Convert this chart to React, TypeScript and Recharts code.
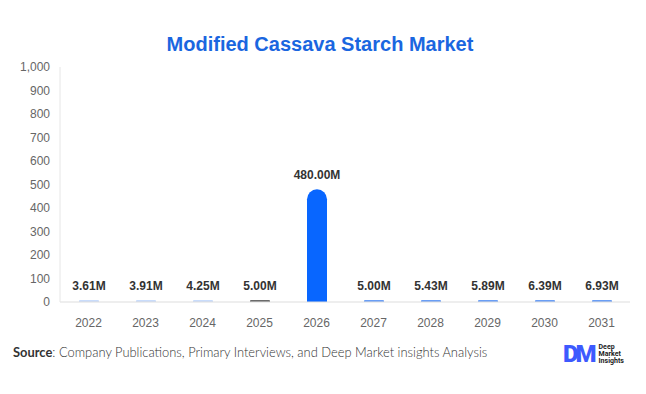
import { Bar, BarChart, Cell, LabelList, XAxis, YAxis } from 'recharts';

const years = ['2022', '2023', '2024', '2025', '2026', '2027', '2028', '2029', '2030', '2031'];
const marketSize = [3.61, 3.91, 4.25, 5.0, 480.0, 5.0, 5.43, 5.89, 6.39, 6.93];
const barColors = [
  '#c9dcfb', '#c9dcfb', '#c9dcfb', '#6b6b6b', '#0866ff',
  '#6a9ef5', '#6a9ef5', '#6a9ef5', '#6a9ef5', '#6a9ef5',
];
const yTicks = [0, 100, 200, 300, 400, 500, 600, 700, 800, 900, 1000];

const data = years.map((year, i) => ({ year, value: marketSize[i] }));

const font = '"Liberation Sans", Arial, sans-serif';

export default function App() {
  return (
    <div
      style={{
        position: 'absolute',
        left: 0,
        top: 0,
        width: 646,
        height: 394,
        background: '#fff',
        fontFamily: font,
      }}
    >
      <div
        style={{
          position: 'absolute',
          top: 33,
          left: 0,
          width: 640,
          textAlign: 'center',
          fontSize: 20,
          fontWeight: 700,
          color: '#1a66e0',
        }}
      >
        Modified Cassava Starch Market
      </div>
      <BarChart
        width={646}
        height={394}
        data={data}
        margin={{ top: 67, right: 16, bottom: 62, left: 8 }}
        barCategoryGap={18}
      >
        <XAxis
          dataKey="year"
          axisLine={{ stroke: '#dddddd' }}
          tickLine={false}
          tick={{ fontSize: 12, fill: '#666', fontFamily: font }}
          tickMargin={10}
          height={30}
        />
        <YAxis
          domain={[0, 1000]}
          ticks={yTicks}
          interval={0}
          axisLine={{ stroke: '#e6e6e6' }}
          tickLine={false}
          tick={{ fontSize: 12, fill: '#666', fontFamily: font }}
          tickFormatter={(v: number) => v.toLocaleString('en-US')}
          width={52}
          tickMargin={4}
        />
        <Bar
          dataKey="value"
          barSize={20}
          minPointSize={2}
          radius={[10, 10, 0, 0]}
          isAnimationActive={false}
        >
          {data.map((d, i) => (
            <Cell key={d.year} fill={barColors[i]} />
          ))}
          <LabelList
            dataKey="value"
            position="top"
            offset={10}
            formatter={(v: number) => `${v.toFixed(2)}M`}
            style={{ fontSize: 12, fontWeight: 700, fill: '#333', fontFamily: font }}
          />
        </Bar>
      </BarChart>
      <div
        style={{
          position: 'absolute',
          left: 13,
          top: 344,
          fontSize: 12.9,
          color: '#333',
          fontWeight: 300,
          fontFamily: 'Lato, "Open Sans", sans-serif',
        }}
      >
        <b style={{ fontWeight: 700 }}>Source</b>: Company Publications, Primary Interviews, and Deep Market insights Analysis
      </div>
      <div style={{ position: 'absolute', left: 563, top: 340, display: 'flex', alignItems: 'center' }}>
        <span
          style={{
            fontSize: 24,
            fontWeight: 900,
            color: '#3d5afe',
            letterSpacing: -3,
            fontFamily: 'Roboto, sans-serif',
          }}
        >
          DM
        </span>
        <span
          style={{
            marginLeft: 5,
            fontSize: 7,
            lineHeight: '7px',
            color: '#222',
            fontWeight: 700,
            fontFamily: 'Roboto, sans-serif',
          }}
        >
          Deep
          <br />
          Market
          <br />
          Insights
        </span>
      </div>
    </div>
  );
}
